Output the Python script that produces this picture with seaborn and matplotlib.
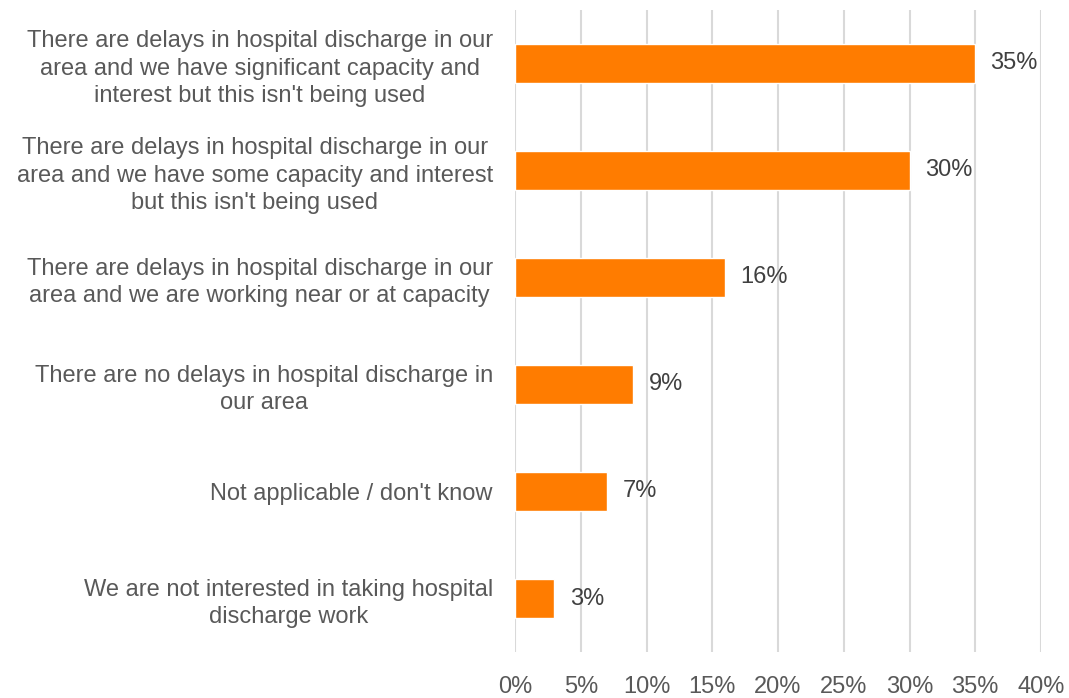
import matplotlib
matplotlib.use("Agg")
import matplotlib.pyplot as plt
import seaborn as sns
import pandas as pd

# Survey responses on hospital discharge capacity
categories = [
    "There are delays in hospital discharge in our\narea and we have significant capacity and\ninterest but this isn't being used",
    "There are delays in hospital discharge in our\narea and we have some capacity and interest\nbut this isn't being used",
    "There are delays in hospital discharge in our\narea and we are working near or at capacity",
    "There are no delays in hospital discharge in\nour area",
    "Not applicable / don't know",
    "We are not interested in taking hospital\ndischarge work",
]
shares = [35, 30, 16, 9, 7, 3]
x_ticks = [0, 5, 10, 15, 20, 25, 30, 35, 40]
x_tick_labels = [f"{t}%" for t in x_ticks]

df = pd.DataFrame({"category": categories, "share": shares})

sns.set_theme(style="white")
plt.rcParams["font.family"] = ["Liberation Sans", "DejaVu Sans"]

fig = plt.figure(figsize=(10.69, 6.98), dpi=100)
ax = fig.add_axes([0.4818, 0.0659, 0.4920, 0.9198])

sns.barplot(data=df, x="share", y="category", orient="h",
            color="#FF7C00", saturation=1, width=0.36, ax=ax)

ax.set_xlim(0, 40)
ax.set_xticks(x_ticks)
ax.set_xticklabels(x_tick_labels, fontsize=17, color="#595959")
ax.tick_params(axis="x", length=0, pad=17)
ax.tick_params(axis="y", length=0, pad=16)
for lbl in ax.get_yticklabels():
    lbl.set_fontsize(17)
    lbl.set_color("#595959")
    lbl.set_multialignment("center")
    lbl.set_linespacing(1.32)

ax.set_xlabel("")
ax.set_ylabel("")
ax.grid(axis="x", color="#D9D9D9", linewidth=1.5)
ax.set_axisbelow(True)
for s in ax.spines.values():
    s.set_visible(False)

ax.bar_label(ax.containers[0], labels=[f"{v}%" for v in shares],
             padding=11, fontsize=17, color="#404040")

fig.savefig("out.png", dpi=100)
